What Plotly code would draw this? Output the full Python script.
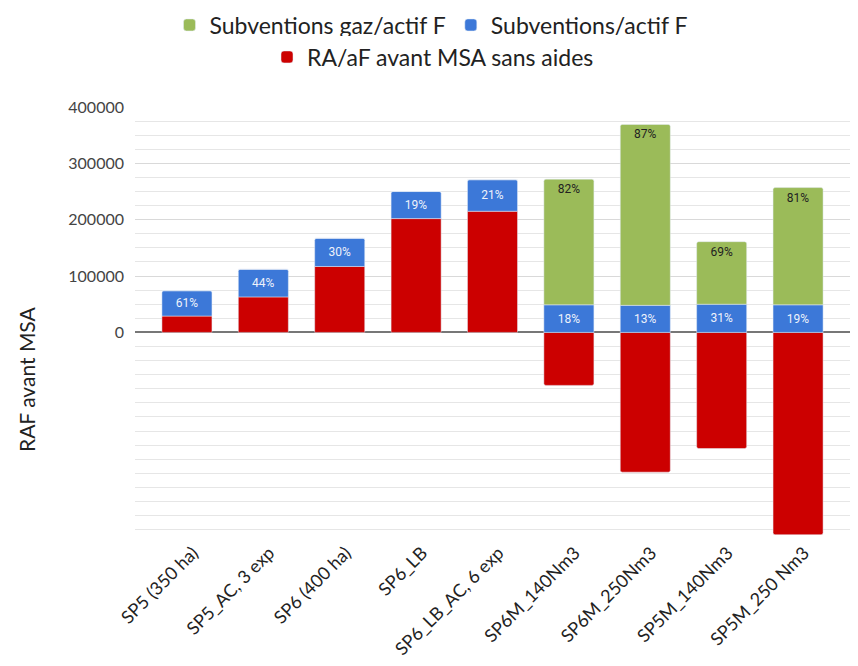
import plotly.graph_objects as go

# Scenario names (x categories)
categories = [
    "SP5 (350 ha)", "SP5_AC, 3 exp", "SP6 (400 ha)", "SP6_LB",
    "SP6_LB_AC, 6 exp", "SP6M_140Nm3", "SP6M_250Nm3", "SP5M_140Nm3",
    "SP5M_250 Nm3",
]

# Stacked series values (euros)
ra_af_sans_aides = [29000, 63000, 117000, 202000, 215000, -94000, -248000, -206000, -359000]
subv_actif = [45000, 49000, 50000, 48000, 56000, 49000, 48000, 50000, 49000]
subv_gaz_actif = [0, 0, 0, 0, 0, 223000, 321000, 111000, 208000]

# Y axis labelled ticks (negatives left unlabelled)
y_tick_vals = [0, 100000, 200000, 300000, 400000]
y_tick_text = ["0", "100000", "200000", "300000", "400000"]

# Percent shares of positive stack
pos_total = [b + g + max(r, 0) for r, b, g in zip(ra_af_sans_aides, subv_actif, subv_gaz_actif)]
pct_blue = [f"{round(100 * b / t)}%" for b, t in zip(subv_actif, pos_total)]
pct_green = [f"{round(100 * g / t)}%" if g > 0 else "" for g, t in zip(subv_gaz_actif, pos_total)]

RED = "#cc0000"
BLUE = "#3c78d8"
GREEN = "#9bbb59"
FONT = "Lato"

fig = go.Figure()

fig.add_trace(go.Bar(
    x=categories, y=ra_af_sans_aides, name="RA/aF avant MSA sans aides",
    marker=dict(color=RED), legend="legend2", hoverinfo="x+y",
))
fig.add_trace(go.Bar(
    x=categories, y=subv_actif, name="Subventions/actif F",
    marker=dict(color=BLUE), text=pct_blue, textposition="inside",
    insidetextanchor="middle", textangle=0,
    textfont=dict(family="Roboto", size=12, color="#eef2fb"),
    legend="legend", legendrank=2,
))
fig.add_trace(go.Bar(
    x=categories, y=subv_gaz_actif, name="Subventions gaz/actif F",
    marker=dict(color=GREEN), text=pct_green, textposition="inside",
    insidetextanchor="end", textangle=0,
    textfont=dict(family="Roboto", size=12, color="#222222"),
    legend="legend", legendrank=1,
))

W, H = 858, 666
L, R, T, B = 135, 8, 107, 131

fig.update_layout(
    width=W, height=H,
    margin=dict(l=L, r=R, t=T, b=B, pad=0, autoexpand=False),
    paper_bgcolor="white", plot_bgcolor="white",
    barmode="relative", bargap=0.345, barcornerradius=2,
    font=dict(family=FONT, color="#222222"),
    legend=dict(
        orientation="h", xref="container", yref="container",
        x=431 / W, xanchor="center", y=1 - 25 / H, yanchor="middle",
        font=dict(family=FONT, size=23, color="#222222"),
        traceorder="normal", itemclick=False, itemdoubleclick=False,
        itemwidth=30,
    ),
    legend2=dict(
        orientation="h", xref="container", yref="container",
        x=433 / W, xanchor="center", y=1 - 57 / H, yanchor="middle",
        font=dict(family=FONT, size=23, color="#222222"),
        itemclick=False, itemdoubleclick=False, itemwidth=30,
    ),
    showlegend=True,
)

fig.update_xaxes(
    range=[-0.68, 8.68], tickangle=-45, showgrid=False, showline=False,
    ticks="", ticklabelstandoff=3, ticklabelshift=6, automargin=False,
    tickfont=dict(family=FONT, size=18, color="#222222"),
    fixedrange=True,
)
fig.update_yaxes(
    range=[-359500, 400000], tickmode="array", tickvals=y_tick_vals,
    ticktext=y_tick_text, ticks="", ticklabelstandoff=10, automargin=False,
    tickfont=dict(family=FONT, size=16, color="#444444"),
    showgrid=True, gridcolor="#d9d9d9", gridwidth=1,
    minor=dict(tick0=0, dtick=25000, showgrid=True, gridcolor="#e6e6e6", gridwidth=1),
    zeroline=True, zerolinecolor="#777777", zerolinewidth=1.5,
    showline=False, fixedrange=True,
)

fig.add_annotation(
    text="RAF avant MSA", textangle=-90, showarrow=False,
    xref="paper", yref="paper",
    x=(26 - L) / (W - L - R), y=(H - B - 380) / (H - T - B),
    xanchor="center", yanchor="middle",
    font=dict(family=FONT, size=21, color="#222222"),
)

fig.write_html("out.html")
